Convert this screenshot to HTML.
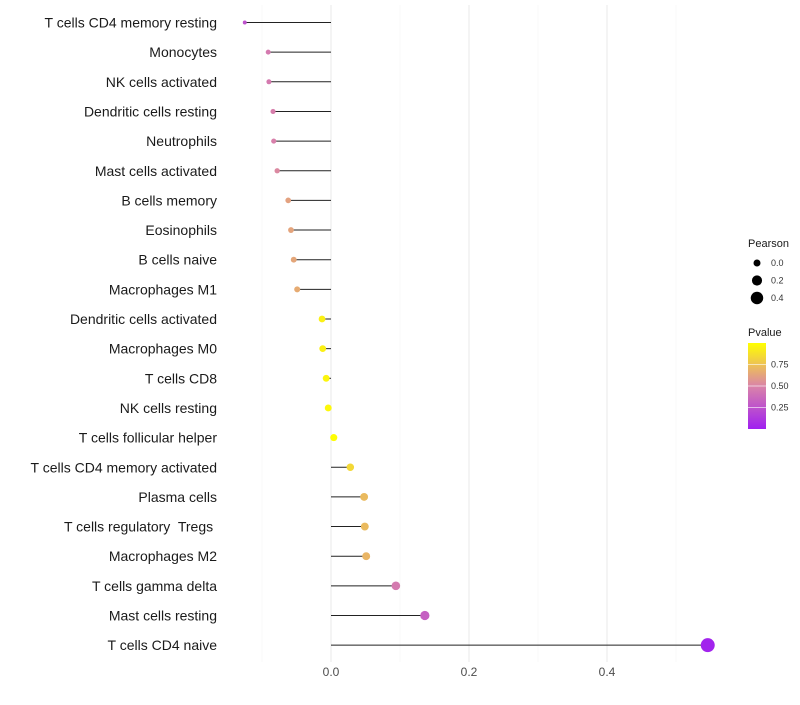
<!DOCTYPE html>
<html><head><meta charset="utf-8"><style>
body{margin:0;background:#fff;font-family:"Liberation Sans",sans-serif}
text{white-space:pre}
</style></head><body>
<svg id="chart" width="800" height="700"></svg>
<script>
const categories=["T cells CD4 memory resting","Monocytes","NK cells activated","Dendritic cells resting","Neutrophils","Mast cells activated","B cells memory","Eosinophils","B cells naive","Macrophages M1","Dendritic cells activated","Macrophages M0","T cells CD8","NK cells resting","T cells follicular helper","T cells CD4 memory activated","Plasma cells","T cells regulatory  Tregs ","Macrophages M2","T cells gamma delta","Mast cells resting","T cells CD4 naive"];
const pearson=[-0.125,-0.091,-0.090,-0.084,-0.083,-0.078,-0.062,-0.058,-0.054,-0.049,-0.013,-0.012,-0.007,-0.004,0.004,0.028,0.048,0.049,0.051,0.094,0.136,0.546];
const pvalue=[0.25,0.45,0.45,0.47,0.48,0.52,0.62,0.63,0.64,0.66,0.94,0.94,0.96,0.97,0.99,0.84,0.72,0.72,0.7,0.45,0.32,0.02];
const xTicks=[0.0,0.2,0.4];
const xMinor=[-0.1,0.1,0.3,0.5];
const sizeLegend=[0.0,0.2,0.4];
const colorTicks=[0.25,0.50,0.75];

const NS="http://www.w3.org/2000/svg";
const svg=document.getElementById('chart');
function el(t,a,p){const e=document.createElementNS(NS,t);for(const k in a)e.setAttribute(k,a[k]);(p||svg).appendChild(e);return e;}
const x=v=>331+v*690;
const y=i=>22.5+i*29.65;
const r=v=>Math.sqrt(Math.max(2.25,12.25+67*v));
function lerp(a,b,t){return a.map((c,i)=>Math.round(c+(b[i]-c)*t));}
function col(p){const lo=[160,32,240],mid=[218,132,168],hi=[255,255,0];const c=p<0.5?lerp(lo,mid,p/0.5):lerp(mid,hi,(p-0.5)/0.5);return `rgb(${c})`;}

xMinor.forEach(v=>{const g=el('line',{x1:x(v),x2:x(v),y1:5,y2:662,stroke:'#f3f3f3','stroke-width':0.6});

});
xTicks.forEach(v=>{const g=el('line',{x1:x(v),x2:x(v),y1:5,y2:662,stroke:'#ebebeb','stroke-width':1.1});


const t=el('text',{x:x(v),y:676,'text-anchor':'middle','font-size':12,fill:'#4d4d4d'});t.textContent=v.toFixed(1);

});

categories.forEach((c,i)=>{
const t=el('text',{x:217,y:y(i)+5,'text-anchor':'end','font-size':14,fill:'#1a1a1a'});t.textContent=c;


const l=el('line',{x1:x(0),x2:x(pearson[i]),y1:y(i),y2:y(i),stroke:'#222','stroke-width':1});


const d=el('circle',{cx:x(pearson[i]),cy:y(i),r:r(pearson[i]),fill:col(pvalue[i])});


});

const lt=el('text',{x:748,y:247,'font-size':11,fill:'#1a1a1a'});lt.textContent='Pearson';


sizeLegend.forEach((v,i)=>{const cy=263+i*17.5;
const c=el('circle',{cx:757,cy:cy,r:r(v),fill:'#000'});


const t=el('text',{x:771,y:cy+3,'font-size':9,fill:'#333'});t.textContent=v.toFixed(1);

});

const pt=el('text',{x:748,y:336,'font-size':11,fill:'#1a1a1a'});pt.textContent='Pvalue';


const defs=el('defs',{});const lg=el('linearGradient',{id:'pg',x1:0,y1:1,x2:0,y2:0},defs);
[0,0.25,0.5,0.75,1].forEach(s=>el('stop',{offset:s,'stop-color':col(s)},lg));
const bar=el('rect',{x:748,y:343,width:18,height:86,fill:'url(#pg)'});


colorTicks.forEach(v=>{const yy=429-v*86;
const tk=el('line',{x1:748,x2:766,y1:yy,y2:yy,stroke:'#fff','stroke-opacity':0.6});


const t=el('text',{x:771,y:yy+3,'font-size':9,fill:'#333'});t.textContent=v.toFixed(2);

});
</script>
</body></html>
